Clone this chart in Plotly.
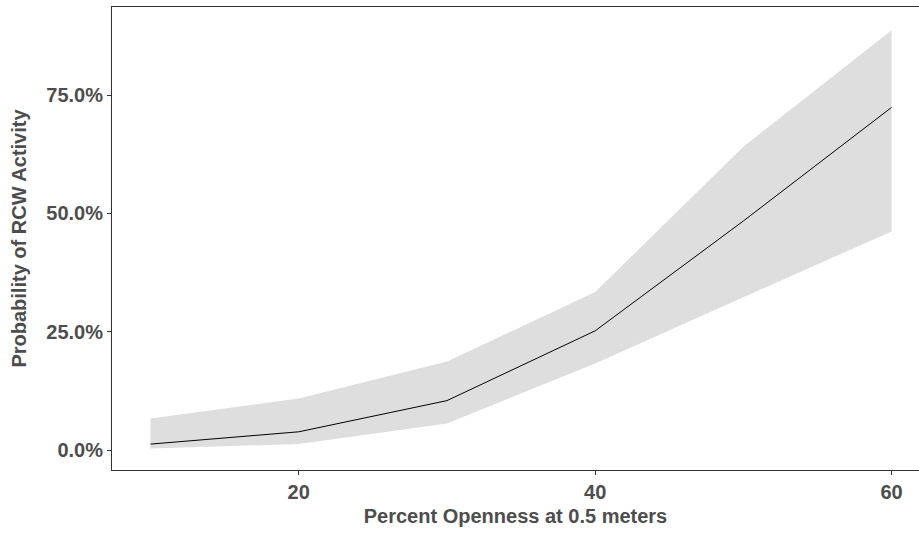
import plotly.graph_objects as go

openness = [10, 20, 30, 40, 50, 60]
prob_fit = [0.0127, 0.0387, 0.1045, 0.252, 0.484, 0.724]
prob_lower = [0.0035, 0.0127, 0.056, 0.183, 0.323, 0.462]
prob_upper = [0.067, 0.109, 0.187, 0.334, 0.641, 0.887]

x_ticks = [20, 40, 60]
y_ticks = [0.0, 0.25, 0.50, 0.75]

font_family = "Liberation Sans, Arial, sans-serif"

fig = go.Figure()
fig.add_trace(go.Scatter(x=openness, y=prob_lower, mode="lines",
                         line=dict(width=0, color="#DEDEDE"), showlegend=False,
                         hoverinfo="skip"))
fig.add_trace(go.Scatter(x=openness, y=prob_upper, mode="lines",
                         line=dict(width=0, color="#DEDEDE"), fill="tonexty",
                         fillcolor="#DEDEDE", showlegend=False, hoverinfo="skip"))
fig.add_trace(go.Scatter(x=openness, y=prob_fit, mode="lines",
                         line=dict(width=1, color="black"), showlegend=False))

fig.update_layout(
    width=919, height=533,
    margin=dict(l=112, r=0, t=7, b=63),
    paper_bgcolor="white", plot_bgcolor="white",
    font=dict(family=font_family, color="#4D4D4D"),
    xaxis=dict(range=[7.4, 61.85], tickvals=x_ticks, ticks="outside", ticklen=4,
               tickcolor="#333333", showgrid=False, zeroline=False,
               showline=True, linecolor="#333333", linewidth=1, mirror=True,
               tickfont=dict(size=20, color="#4D4D4D", weight="bold"),
               title=dict(text="<b>Percent Openness at 0.5 meters</b>",
                          font=dict(size=20, color="#4D4D4D"), standoff=6)),
    yaxis=dict(range=[-0.042, 0.936], tickvals=y_ticks, tickformat=".1%",
               ticks="outside", ticklen=4, tickcolor="#333333",
               showgrid=False, zeroline=False, showline=True,
               linecolor="#333333", linewidth=1, mirror=False,
               tickfont=dict(size=20, color="#4D4D4D", weight="bold"),
               title=dict(text="<b>Probability of RCW Activity</b>",
                          font=dict(size=20, color="#4D4D4D"), standoff=14)),
)

fig.write_html("out.html")
